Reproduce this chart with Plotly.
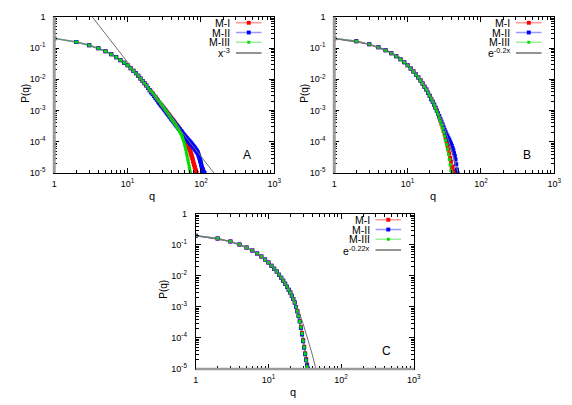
import plotly.graph_objects as go

W, H = 572, 405
OFF = 8  # the page body adds an 8px margin; reference pixels are shifted back by it

# ---------------- panel A (power-law tail, x^-3) ----------------
q_a_trunk = list(range(1, 21))
p_a_trunk = [0.205, 0.158, 0.124, 0.099, 0.079, 0.063, 0.051, 0.041, 0.034, 0.028,
             0.0225, 0.0187, 0.0156, 0.0129, 0.0107, 0.0089, 0.0075, 0.0063, 0.0053, 0.0045]

q_a_m1 = list(range(21, 88))
p_a_m1 = [0.0040, 0.0035, 0.0030, 0.0027, 0.0023, 0.0021, 0.0018, 0.0016, 0.00148, 0.00133,
          0.00121, 0.00109, 0.001, 0.00091, 0.00083, 0.00077, 0.0007, 0.00064, 0.0006, 0.00055,
          0.00051, 0.00048, 0.00044, 0.00041, 0.00038, 0.00036, 0.00033, 0.00031, 0.00029, 0.00027,
          0.00025, 0.00024, 0.00022, 0.00021, 0.000195, 0.000178, 0.00017, 0.000152, 0.000145, 0.000128,
          0.000122, 0.000108, 0.000104, 0.000092, 0.000088, 0.000078, 0.000074, 0.000065, 0.000062, 0.000055,
          0.000052, 0.000046, 0.000043, 0.000037, 0.000035, 0.00003, 0.000028, 0.000024, 0.000022, 0.000019,
          0.000018, 0.0000155, 0.000015, 0.000013, 0.0000122, 0.000011, 0.00001]

q_a_m2 = list(range(21, 109)) + [110, 112]
p_a_m2 = [0.0038, 0.0033, 0.0029, 0.0025, 0.0022, 0.00195, 0.00175, 0.00155, 0.0014, 0.00127,
          0.00115, 0.00104, 0.00094, 0.00086, 0.00078, 0.00072, 0.00066, 0.00061, 0.00056, 0.00052,
          0.00048, 0.00045, 0.00042, 0.00039, 0.00036, 0.00034, 0.00032, 0.0003, 0.00028, 0.00026,
          0.00025, 0.00024, 0.00022, 0.000218, 0.000196, 0.000194, 0.000172, 0.000174, 0.000154, 0.000158,
          0.00014, 0.000144, 0.000127, 0.000132, 0.000116, 0.000121, 0.000106, 0.000112, 0.000098, 0.000103,
          0.00009, 0.000096, 0.000083, 0.000089, 0.000077, 0.000082, 0.000071, 0.000076, 0.000066, 0.00007,
          0.000061, 0.000065, 0.000056, 0.00006, 0.000052, 0.000055, 0.000048, 0.000051, 0.000045, 0.000047,
          0.000042, 0.00004, 0.000036, 0.000034, 0.000031, 0.000029, 0.000026, 0.000024, 0.000022, 0.00002,
          0.000018, 0.0000165, 0.000015, 0.000014, 0.0000135, 0.0000122, 0.0000118, 0.000011,
          0.0000105, 0.00001]

q_a_m3 = list(range(21, 73))
p_a_m3 = [0.0041, 0.0036, 0.0031, 0.0027, 0.0024, 0.0021, 0.0019, 0.0017, 0.0015, 0.00137,
          0.00123, 0.00111, 0.001, 0.00091, 0.00083, 0.00076, 0.00069, 0.00063, 0.00058, 0.00053,
          0.00049, 0.00045, 0.00042, 0.00039, 0.00036, 0.00033, 0.0003, 0.00028, 0.00026, 0.00024,
          0.00022, 0.0002, 0.000185, 0.000168, 0.000152, 0.000136, 0.00012, 0.000105, 0.000091, 0.000078,
          0.000066, 0.000056, 0.000047, 0.00004, 0.000034, 0.000028, 0.000024, 0.00002, 0.0000165, 0.0000138,
          0.0000116, 0.00001]

q_a_fit = [3.3, 150]
p_a_fit = [1.0, 0.00001]

# ---------------- panel B (e^-0.2x) ----------------
q_b_trunk = list(range(1, 21))
p_b_trunk = [0.205, 0.165, 0.132, 0.106, 0.085, 0.069, 0.055, 0.044, 0.035, 0.028,
             0.0224, 0.0179, 0.0143, 0.0114, 0.0091, 0.0073, 0.0058, 0.0047, 0.0037, 0.003]

q_b_m1 = list(range(21, 44))
p_b_m1 = [0.0024, 0.0019, 0.0015, 0.0012, 0.00097, 0.00077, 0.00061, 0.00047, 0.00037, 0.00029,
          0.00022, 0.00017, 0.00013, 0.0001, 0.000075, 0.000056, 0.000042, 0.00003, 0.000023, 0.000015,
          0.000016, 0.000012, 0.00001]

q_b_m2 = list(range(21, 49))
p_b_m2 = [0.0023, 0.0019, 0.00155, 0.00125, 0.001, 0.00082, 0.00067, 0.00054, 0.00044, 0.00036,
          0.00029, 0.00024, 0.0002, 0.00017, 0.00015, 0.00013, 0.000115, 0.0001, 0.000086, 0.000074,
          0.000063, 0.000053, 0.000043, 0.000035, 0.000027, 0.000019, 0.000013, 0.00001]

q_b_m3 = list(range(21, 41))
p_b_m3 = [0.0024, 0.0019, 0.0015, 0.0012, 0.00094, 0.00074, 0.00058, 0.00045, 0.00035, 0.00027,
          0.0002, 0.00015, 0.00011, 0.00008, 0.000057, 0.00004, 0.000027, 0.000018, 0.000012, 0.00001]

q_b_fit = [1, 3, 5, 8, 10, 15, 20, 25, 30, 35, 40, 45, 49]
p_b_fit = [0.2, 0.134, 0.09, 0.05, 0.031, 0.0105, 0.0035, 0.0012, 0.00042, 0.00015,
           0.000053, 0.000019, 0.00001]

# ---------------- panel C (e^-0.22x) ----------------
q_c_trunk = list(range(1, 25))
p_c_trunk = [0.197, 0.16, 0.128, 0.103, 0.082, 0.066, 0.053, 0.042, 0.034, 0.027,
             0.0215, 0.0172, 0.0138, 0.0110, 0.0088, 0.0070, 0.0056, 0.0045, 0.0036, 0.0029,
             0.0023, 0.0018, 0.0014, 0.0010]

q_c_m1 = list(range(25, 36))
p_c_m1 = [0.00074, 0.00052, 0.00035, 0.00023, 0.000145, 0.000086, 0.000052, 0.000032, 0.000021, 0.000014, 0.0000105]
q_c_m2 = list(range(25, 36))
p_c_m2 = [0.00072, 0.0005, 0.00034, 0.00021, 0.00013, 0.000078, 0.000048, 0.00003, 0.000019, 0.000013, 0.00001]
q_c_m3 = list(range(25, 35))
p_c_m3 = [0.00073, 0.00051, 0.00034, 0.00022, 0.00014, 0.000082, 0.00005, 0.000031, 0.000019, 0.000012]

q_c_fit = [1, 3, 5, 8, 10, 15, 20, 25, 30, 35, 40, 45]
p_c_fit = [0.2, 0.129, 0.083, 0.043, 0.0276, 0.0092, 0.0031, 0.00095, 0.00029, 0.000092, 0.00003, 0.00001]

series_names = ["M-I", "M-II", "M-III"]
marker_colors = ["#ff0000", "#0000ff", "#00dd00"]
line_colors = ["rgba(255,0,0,0.4)", "rgba(0,0,255,0.4)", "rgba(0,220,0,0.4)"]
marker_sizes = [4, 4, 3]
FONT = "Liberation Sans, Arial, sans-serif"

# panel boxes in reference pixels: (left, right, top, bottom)
panels = [
    dict(box=(52, 276, 12, 172), ax="", letter="A", fit_label="x<sup>-3</sup>", ylab_dx=29,
         trunk=(q_a_trunk, p_a_trunk),
         series=[(q_a_m1, p_a_m1), (q_a_m2, p_a_m2), (q_a_m3, p_a_m3)],
         fit=(q_a_fit, p_a_fit), gray_edge="left"),
    dict(box=(337, 561, 12, 172), ax="2", letter="B", fit_label="e<sup>-0.2x</sup>", ylab_dx=30,
         trunk=(q_b_trunk, p_b_trunk),
         series=[(q_b_m1, p_b_m1), (q_b_m2, p_b_m2), (q_b_m3, p_b_m3)],
         fit=(q_b_fit, p_b_fit), gray_edge="left"),
    dict(box=(196, 418, 214, 373), ax="3", letter="C", fit_label="e<sup>-0.22x</sup>", ylab_dx=33,
         trunk=(q_c_trunk, p_c_trunk),
         series=[(q_c_m1, p_c_m1), (q_c_m2, p_c_m2), (q_c_m3, p_c_m3)],
         fit=(q_c_fit, p_c_fit), gray_edge="bottom"),
]


def px_x(p):
    return (p - OFF) / W


def px_y(p):
    return 1 - (p - OFF) / H


def label(text, x, y, size, **kw):
    return dict(text=text, x=px_x(x), y=px_y(y), xref="paper", yref="paper", showarrow=False,
                xanchor=kw.pop("xanchor", "center"), yanchor="middle",
                font=dict(family=FONT, size=size, color="black"), **kw)


fig = go.Figure()
shapes, annotations = [], []

for pan in panels:
    left, right, top, bottom = pan["box"]
    xa, ya = "x" + pan["ax"], "y" + pan["ax"]
    tq, tp = pan["trunk"]
    for i, (q, p) in enumerate(pan["series"]):
        fig.add_trace(go.Scatter(
            x=tq + q, y=tp + p, mode="lines+markers", xaxis=xa, yaxis=ya,
            line=dict(color=line_colors[i], width=1.5),
            marker=dict(color=marker_colors[i], size=marker_sizes[i], symbol="square", line=dict(width=0)),
            name=series_names[i], showlegend=False, cliponaxis=True))
    fq, fp = pan["fit"]
    fig.add_trace(go.Scatter(x=fq, y=fp, mode="lines", xaxis=xa, yaxis=ya,
                             line=dict(color="#707070", width=1), showlegend=False))

    # odd thick gray edge seen in the original
    if pan["gray_edge"] == "left":
        shapes.append(dict(type="line", xref="paper", yref="paper",
                           x0=px_x(left), x1=px_x(left), y0=px_y(top), y1=px_y(bottom),
                           line=dict(color="#9a9a9a", width=3)))
    else:
        shapes.append(dict(type="line", xref="paper", yref="paper",
                           x0=px_x(left), x1=px_x(right), y0=px_y(bottom), y1=px_y(bottom),
                           line=dict(color="#9a9a9a", width=2.5)))

    # gnuplot style key: text right-aligned, then sample
    labels = series_names + [pan["fit_label"]]
    rows = [6, 16, 26, 37]
    for k, lab in enumerate(labels):
        yy = top + rows[k]
        annotations.append(label(lab, right - 43, yy, 10.5, xanchor="right"))
        lc = line_colors[k] if k < 3 else "#707070"
        shapes.append(dict(type="line", xref="paper", yref="paper",
                           x0=px_x(right - 39), x1=px_x(right - 13), y0=px_y(yy), y1=px_y(yy),
                           line=dict(color=lc, width=1.5)))
        if k < 3:
            s = marker_sizes[k] / 2
            cx = right - 26
            shapes.append(dict(type="rect", xref="paper", yref="paper",
                               x0=px_x(cx - s), x1=px_x(cx + s), y0=px_y(yy + s), y1=px_y(yy - s),
                               fillcolor=marker_colors[k], line=dict(width=0)))

    # panel letter and axis titles
    annotations.append(label(pan["letter"], right - 28, bottom - 18, 12))
    annotations.append(label("P(q)", left - pan["ylab_dx"], (top + bottom) / 2 - 2, 10, textangle=-90))
    annotations.append(label("q", (left + right) / 2 - 12, bottom + 24, 11))

    common = dict(type="log", showline=True, linecolor="black", linewidth=1, mirror="allticks",
                  ticks="inside", ticklen=5, tickcolor="black", showgrid=False, zeroline=False,
                  tickfont=dict(family=FONT, size=9, color="black"),
                  minor=dict(ticks="inside", ticklen=3, tickcolor="black", dtick="D1", showgrid=False))
    fig.update_layout(**{
        "xaxis" + pan["ax"]: dict(common, domain=[px_x(left), px_x(right)], range=[0, 3],
                                  anchor=ya, tickvals=[1, 10, 100, 1000],
                                  ticktext=["1", "10<sup>1</sup>", "10<sup>2</sup>", "10<sup>3</sup>"],
                                  ticklabelstandoff=2),
        "yaxis" + pan["ax"]: dict(common, domain=[px_y(bottom), px_y(top)], range=[-5, 0],
                                  anchor=xa, tickvals=[1e-5, 1e-4, 1e-3, 1e-2, 1e-1, 1],
                                  ticktext=["10<sup>-5</sup>", "10<sup>-4</sup>", "10<sup>-3</sup>",
                                            "10<sup>-2</sup>", "10<sup>-1</sup>", "1"],
                                  ticklabelstandoff=6),
    })

fig.update_layout(
    width=W, height=H, autosize=False,
    margin=dict(l=0, r=0, t=0, b=0),
    paper_bgcolor="white", plot_bgcolor="white",
    showlegend=False,
    shapes=shapes, annotations=annotations,
    font=dict(family=FONT, size=11, color="black"),
)

fig.write_html("out.html")
